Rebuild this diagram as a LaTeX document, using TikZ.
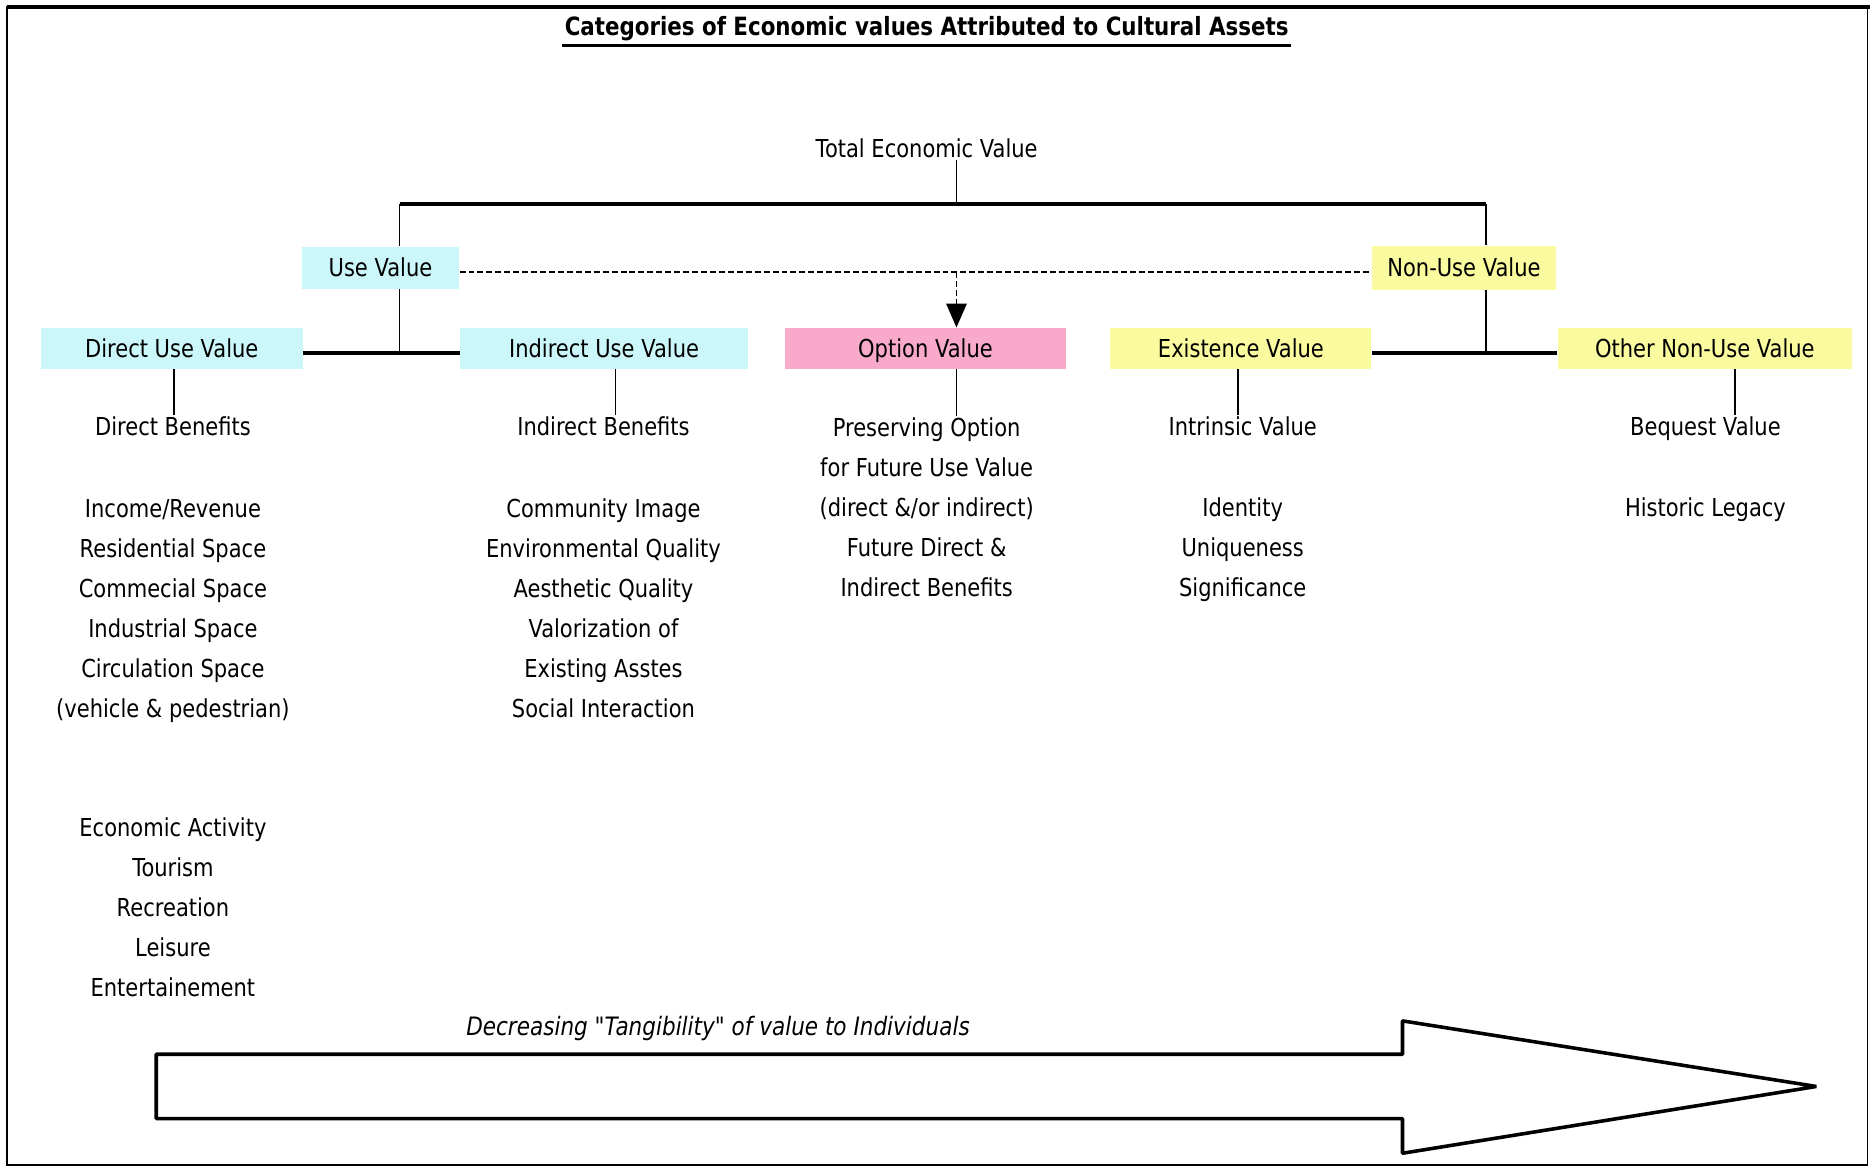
\documentclass[tikz,border=0pt]{standalone}
\usepackage{fontspec}
\setmainfont{DejaVu Sans}[FakeStretch=0.85]
\usepackage{tikz}
\usetikzlibrary{arrows.meta}
\usetikzlibrary{calc}

\definecolor{usecyan}{HTML}{CCF7FA}
\definecolor{optionpink}{HTML}{F9AACB}
\definecolor{nonuseyellow}{HTML}{FAFA9E}

\begin{document}
\begin{tikzpicture}[x=0.02cm, y=-0.02cm,
        text_style/.style={font=\fontsize{11.8}{19.1}\selectfont, align=center, inner sep=1pt},
        use_style/.style={text_style, fill=usecyan, minimum height=0.68cm, inner sep=0pt, text height=9pt, text depth=0.4pt},
        option_style/.style={text_style, fill=optionpink, minimum height=0.68cm, inner sep=0pt, text height=9pt, text depth=0.4pt},
        nonuse_style/.style={text_style, fill=nonuseyellow, minimum height=0.68cm, inner sep=0pt, text height=9pt, text depth=0.4pt},
        list_style/.style={text_style, anchor=base},
        edge_style/.style={draw=black, line width=0.8pt},
        bar_style/.style={draw=black, line width=1.6pt},
        dash_style/.style={draw=black, line width=0.9pt, dash pattern=on 0.1cm off 0.05cm}]

        \useasboundingbox (0,0) rectangle (1568,979);
        \draw [line width=0.8pt] (6,6) rectangle (1566,977);
        \draw [line width=1.6pt] (6,6) -- (1568,6);

        \node [text_style, font=\fontsize{12}{14}\selectfont\bfseries] (title) at (777,24) {Categories of Economic values Attributed to Cultural Assets};
        \draw [line width=1.3pt] ([yshift=-1pt]title.south west) -- ([yshift=-1pt]title.south east);
        \node [text_style] (tev) at (777,124) {Total Economic Value};

        \node [use_style, minimum width=2.64cm, minimum height=0.7cm] (usev) at (319,224.5) {Use Value};
        \node [nonuse_style, minimum width=3.1cm, minimum height=0.74cm] (nonusev) at (1227.5,224.5) {Non-Use Value};

        \node [use_style, minimum width=4.4cm] (direct) at (144,292) {Direct Use Value};
        \node [use_style, minimum width=4.82cm] (indirect) at (506.5,292) {Indirect Use Value};
        \node [option_style, minimum width=4.72cm] (option) at (776,292) {Option Value};
        \node [nonuse_style, minimum width=4.38cm] (existence) at (1040.5,292) {Existence Value};
        \node [nonuse_style, minimum width=4.94cm] (othernon) at (1429.5,292) {Other Non-Use Value};

        % base of a list = baseline of its last line
        \node [list_style] (dben) at (145,365.5) {Direct Benefits};
        \node [list_style] (dlist) at (145,601.5) {Income/Revenue\\Residential Space\\Commecial Space\\Industrial Space\\Circulation Space\\(vehicle \& pedestrian)};
        \node [list_style] (dact) at (145,835.5) {Economic Activity\\Tourism\\Recreation\\Leisure\\Entertainement};

        \node [list_style] (iben) at (506,365.5) {Indirect Benefits};
        \node [list_style] (ilist) at (506,601.5) {Community Image\\Environmental Quality\\Aesthetic Quality\\Valorization of\\Existing Asstes\\Social Interaction};

        \node [list_style] (oben) at (777,500.5) {Preserving Option\\for Future Use Value\\(direct \&/or indirect)\\Future Direct \&\\Indirect Benefits};

        \node [list_style] (eben) at (1042,365.5) {Intrinsic Value};
        \node [list_style] (elist) at (1042,500.5) {Identity\\Uniqueness\\Significance};

        \node [list_style] (bben) at (1430,365.5) {Bequest Value};
        \node [list_style] (blist) at (1430,433.5) {Historic Legacy};

        \coordinate (top_tap) at (802,171);
        \coordinate (use_tap) at (335,171);
        \coordinate (nonuse_tap) at (1246,171);
        \coordinate (use_join) at (335,296);
        \coordinate (nonuse_join) at (1246,296);
        \coordinate (option_tap) at (802,228);

        \draw [edge_style] (tev.south -| top_tap) -- (top_tap);
        \draw [bar_style] (use_tap) -- (nonuse_tap);

        \draw [edge_style] (use_tap) -- (use_tap |- usev.north);
        \draw [edge_style] (use_tap |- usev.south) -- (use_join);
        \draw [edge_style] (nonuse_tap) -- (nonuse_tap |- nonusev.north);
        \draw [edge_style] (nonuse_tap |- nonusev.south) -- (nonuse_join);

        \draw [bar_style] (direct.east |- use_join) -- (indirect.west |- use_join);
        \draw [bar_style] (existence.east |- nonuse_join) -- (othernon.west |- nonuse_join);

        \draw [dash_style] (usev.east |- option_tap) -- (nonusev.west |- option_tap);
        \draw [dash_style, -{Triangle[length=0.4cm,width=0.34cm]}] (option_tap) -- (option.north -| option_tap);

        \foreach \boxname/\subname/\x in {direct/dben/146, indirect/iben/516, option/oben/802, existence/eben/1038, othernon/bben/1455}
            \draw [edge_style] (\boxname.south -| \x,0) -- (\subname.north -| \x,0);

        % tangibility arrow
        \node [text_style, font=\fontsize{12.1}{14}\selectfont\itshape\addfontfeature{Ligatures=TeXOff}] (tangible) at (602,862) {Decreasing "Tangibility" of value to Individuals};
        \draw [line width=1.7pt, line join=bevel] (131,884) -- (1176,884) -- (1176,856) -- (1523,911) -- (1176,967) -- (1176,938) -- (131,938) -- cycle;

\end{tikzpicture}
\end{document}
